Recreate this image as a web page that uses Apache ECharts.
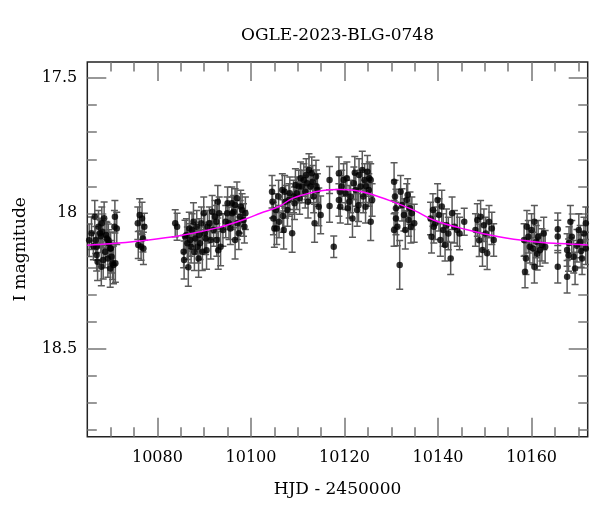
<!DOCTYPE html>
<html><head><meta charset="utf-8">
<script src="https://cdn.jsdelivr.net/npm/echarts@6/dist/echarts.min.js"></script>
<style>html,body{margin:0;padding:0;background:#fff}#c{width:600px;height:512px}</style>
</head><body><div id="c"></div>
<script>
// Observations: HJD-2450000, I magnitude, error
const hjd = [
10065.9,10066.3,10066.6,10066.8,10067.0,10067.0,10067.4,10067.7,10067.9,10068.2,10068.4,10068.6,10068.8,10069.0,10069.2,10069.4,10069.6,10069.9,10070.2,10070.4,10070.6,10070.8,10070.9,10071.0,10069.9,
10075.8,10075.9,10076.2,10076.5,10076.7,10076.9,10077.0,10077.2,
10083.8,10084.2,
10085.6,10085.7,10086.2,10086.4,10086.6,10087.0,10087.4,10087.7,10088.1,10088.4,10088.6,10088.8,10089.1,10089.4,10089.9,10090.1,10090.3,10090.5,10091.1,10091.7,10092.0,10092.3,10092.6,10092.7,10093.0,10093.2,10093.5,10094.9,10095.3,10095.9,10096.3,10096.6,10096.6,10097.0,10097.1,10097.4,10097.7,10098.1,10098.4,10098.8,
10104.5,10104.6,10104.8,10105.0,10105.3,10105.5,10105.9,10106.7,10106.8,10107.0,10107.4,10107.8,10108.1,10108.3,10108.8,10109.1,10109.5,10109.8,10110.2,10110.6,10110.9,10111.3,10111.6,10112.0,10112.4,10112.7,10113.0,10113.4,10113.6,10113.9,10114.2,10114.5,10114.9,
10116.8,10116.8,10117.7,
10118.8,10118.8,10119.1,10119.4,10119.8,10120.2,10120.7,10121.3,10121.7,10122.0,10122.4,10122.7,10123.1,10123.4,10123.8,10124.0,10124.3,10124.5,10124.9,10125.2,10125.6,10125.6,10125.9,
10130.6,10130.8,10131.0,10131.0,10131.3,10130.6,10131.8,10132.0,10132.3,10132.7,10133.0,10133.3,10133.7,10134.0,10134.4,10134.9,10133.5,10134.2,
10138.4,10138.6,10138.9,10139.1,10139.4,10139.9,10140.2,10140.5,10140.8,10141.1,10141.5,10141.8,10142.2,10142.7,10143.0,10143.5,10144.1,10144.6,10145.6,
10148.0,10148.4,10148.8,10149.1,10149.5,10149.8,10150.2,10150.5,10150.9,10151.5,10151.9,
10158.4,10158.6,10158.8,10159.3,10159.6,10160.0,10160.3,10160.6,10160.6,10161.0,10161.4,10161.8,10162.2,10162.6,10162.9,
10165.6,10165.6,10165.6,
10167.6,10167.6,10167.9,10168.3,10168.6,10169.0,10169.3,10169.7,10170.1,10170.4,10170.8,10171.2,10171.6,10171.6,
10065.4,10067.2,10068.0,10068.1,10069.5,10070.0,10071.3,
10085.9,10086.8,10087.2,10087.9,10088.9,10089.6,10090.7,10091.4,10092.9,10094.0,10094.6,10095.0,10095.6,10096.0,10097.8,10098.6,
10106.0,10107.2,10109.3,10110.4,10111.8,10112.2,10113.2,10114.0,
10119.0,10120.5,10121.0,10122.2,10123.0,10124.6,10125.3,
10159.0,10161.2,10168.0,10170.6
];
const imag = [
18.074,18.122,18.013,18.099,18.154,18.124,18.05,18.074,18.085,18.068,18.173,18.018,18.142,18.08,18.093,18.167,18.111,18.204,18.161,18.185,18.191,18.05,18.013,18.185,18.13,
18.037,18.117,18.006,18.124,18.019,18.093,18.13,18.05,
18.037,18.05,
18.142,18.173,18.08,18.111,18.2,18.099,18.062,18.031,18.093,18.05,18.124,18.167,18.111,18.037,18.0,18.074,18.093,18.137,18.037,17.994,18.062,18.013,18.031,18.099,18.137,18.0,18.124,18.0,18.037,17.963,17.994,17.969,18.099,17.944,18.037,18.074,18.013,17.988,18.025,18.0,
17.92,17.957,18.019,18.056,17.988,18.056,17.938,17.914,18.01,18.062,17.957,17.988,17.951,17.926,18.074,17.938,17.895,17.926,17.901,17.870,17.901,17.877,17.92,17.889,17.84,17.901,17.852,17.938,18.037,17.864,17.914,17.976,18.006,
17.877,17.973,18.124,
17.852,17.951,17.976,17.901,17.877,17.926,17.981,17.938,18.019,17.889,17.914,17.988,17.858,17.901,17.84,17.938,17.877,17.976,17.846,17.914,17.877,18.031,17.951,
17.883,17.938,17.981,18.019,18.05,18.062,18.191,17.92,17.969,18.006,18.062,17.951,18.025,17.981,18.0,18.037,17.932,18.05,
18.019,18.087,17.988,18.05,18.037,17.951,18.006,18.099,17.975,18.062,18.117,18.044,18.075,18.167,18.0,18.05,18.062,18.075,18.031,
18.062,18.025,18.1,18.013,18.136,18.044,18.075,18.148,18.031,18.056,18.099,
18.099,18.216,18.167,18.087,18.124,18.062,18.13,18.031,18.198,18.105,18.087,18.136,18.117,18.075,18.124,
18.059,18.086,18.198,
18.136,18.235,18.155,18.031,18.087,18.161,18.204,18.12,18.062,18.105,18.167,18.075,18.037,18.13,
18.1,18.179,18.198,18.037,18.1,18.13,18.056,
18.086,18.056,18.124,18.142,18.08,18.142,18.05,18.099,17.957,18.062,18.031,17.963,18.056,18.0,17.975,18.05,
18.031,17.92,17.963,17.944,17.858,17.957,17.883,17.9,
17.92,17.87,17.957,17.85,17.97,17.9,17.87,
18.05,18.15,18.11,18.14
];
const ierr = [
.06,.05,.06,.05,.06,.05,.06,.05,.06,.05,.07,.06,.06,.05,.06,.07,.05,.07,.06,.06,.07,.06,.06,.07,.06,
.06,.05,.06,.05,.06,.05,.06,.05,
.05,.05,
.06,.07,.06,.06,.07,.06,.06,.07,.06,.06,.06,.07,.06,.06,.06,.07,.06,.07,.06,.06,.06,.06,.06,.06,.07,.06,.07,.06,.06,.06,.06,.06,.07,.06,.06,.06,.06,.06,.06,.06,
.06,.06,.06,.07,.06,.06,.06,.06,.06,.07,.06,.06,.06,.06,.07,.06,.06,.06,.06,.06,.06,.06,.06,.06,.06,.06,.06,.06,.07,.06,.06,.07,.07,
.05,.06,.04,
.06,.06,.06,.06,.06,.06,.06,.06,.07,.06,.06,.06,.06,.06,.07,.06,.06,.06,.06,.06,.06,.07,.06,
.07,.06,.07,.06,.07,.06,.09,.06,.06,.06,.07,.06,.06,.06,.06,.07,.06,.06,
.06,.06,.06,.06,.06,.06,.06,.06,.06,.06,.06,.06,.06,.06,.06,.06,.06,.06,.05,
.06,.06,.06,.06,.06,.06,.06,.06,.06,.06,.06,
.06,.06,.06,.06,.06,.06,.06,.06,.06,.06,.06,.06,.06,.06,.06,
.06,.06,.06,
.06,.06,.06,.06,.06,.06,.06,.06,.06,.06,.06,.06,.06,.06,
.06,.07,.07,.06,.06,.06,.06,
.06,.06,.06,.07,.06,.07,.06,.07,.06,.06,.06,.06,.06,.06,.06,.06,
.06,.06,.06,.06,.06,.06,.06,.06,
.06,.06,.06,.06,.06,.06,.06,
.06,.06,.06,.06
];
// Model curve
const modelT = [10065,10070,10076,10085,10093,10099,10102,10106,10109,10115,10119,10122,10125,10130,10135,10139,10146,10153,10160,10166,10172];
const modelM = [18.118,18.113,18.103,18.082,18.053,18.02,18.0,17.975,17.944,17.917,17.912,17.915,17.926,17.955,17.99,18.025,18.06,18.087,18.104,18.112,18.117];
// Axis ticks
const xMajor = [10080,10100,10120,10140,10160];
const xMinor = [10070,10075,10080,10085,10090,10095,10100,10105,10110,10115,10120,10125,10130,10135,10140,10145,10150,10155,10160,10165,10170];
const yMajor = [17.5,18,18.5];
const yMinor = [17.5,17.6,17.7,17.8,17.9,18.0,18.1,18.2,18.3,18.4,18.5,18.6,18.7,18.8];

const FONT = 'DejaVu Serif';
const X0 = 10065, X1 = 10172, Y0 = 17.44, Y1 = 18.827;
const pts = hjd.map((t,i)=>[t, imag[i]]);
const errData = hjd.map((t,i)=>[t, imag[i], ierr[i]]);
const model = modelT.map((t,i)=>[t, modelM[i]]);

function xAx(pos, ticks, len, labels, name) {
  return {type:'value', position:pos, min:X0, max:X1,
    axisLine:{show:false}, splitLine:{show:false},
    axisTick:{show:true, inside:true, length:len, customValues:ticks, lineStyle:{color:'#777', width:1.5}},
    axisLabel:{show:labels, customValues:xMajor, margin:13, color:'#000', fontFamily:FONT, fontSize:16,
      formatter:v=>String(v)},
    name: name||'', nameLocation:'middle', nameGap:44,
    nameTextStyle:{color:'#000', fontFamily:FONT, fontSize:17}};
}
function yAx(pos, ticks, len, labels, name) {
  return {type:'value', position:pos, min:Y0, max:Y1, inverse:true,
    axisLine:{show:false}, splitLine:{show:false},
    axisTick:{show:true, inside:true, length:len, customValues:ticks, lineStyle:{color:'#777', width:1.5}},
    axisLabel:{show:labels, customValues:yMajor, margin:10, color:'#000', fontFamily:FONT, fontSize:16,
      formatter:v=>String(v)},
    name: name||'', nameLocation:'middle', nameGap:58,
    nameTextStyle:{color:'#000', fontFamily:FONT, fontSize:17}};
}

const chart = echarts.init(document.getElementById('c'), null, {renderer:'canvas'});
chart.setOption({
  animation:false,
  backgroundColor:'#fff',
  title:{text:'OGLE-2023-BLG-0748', left:337.5, textAlign:'center', top:27, padding:0,
    textStyle:{color:'#000', fontFamily:FONT, fontSize:17, fontWeight:'normal'}},
  grid:{left:87.3, right:12.3, top:62, bottom:75.3, show:true, borderColor:'#222', borderWidth:1.5, backgroundColor:'transparent'},
  xAxis:[xAx('bottom', xMajor, 19, true, 'HJD - 2450000'), xAx('bottom', xMinor, 9.5, false),
         xAx('top', xMajor, 19, false), xAx('top', xMinor, 9.5, false)],
  yAxis:[yAx('left', yMajor, 19, true, 'I magnitude'), yAx('left', yMinor, 9.5, false),
         yAx('right', yMajor, 19, false), yAx('right', yMinor, 9.5, false)],
  series:[
    {type:'custom', name:'err', xAxisIndex:0, yAxisIndex:0, z:2, clip:true,
     renderItem:function(params, api){
       const t = api.value(0), m = api.value(1), e = api.value(2);
       const a = api.coord([t, m-e]), b = api.coord([t, m+e]);
       const st = {stroke:'#5a5a5a', lineWidth:1.5};
       return {type:'group', children:[
         {type:'line', shape:{x1:a[0],y1:a[1],x2:b[0],y2:b[1]}, style:st},
         {type:'line', shape:{x1:a[0]-3.5,y1:a[1],x2:a[0]+3.5,y2:a[1]}, style:st},
         {type:'line', shape:{x1:b[0]-3.5,y1:b[1],x2:b[0]+3.5,y2:b[1]}, style:st}
       ]};
     },
     encode:{x:0, y:1}, data:errData},
    {type:'scatter', name:'I', xAxisIndex:0, yAxisIndex:0, z:3, symbol:'circle', symbolSize:6.5,
     itemStyle:{color:'#000'}, data:pts},
    {type:'line', name:'model', xAxisIndex:0, yAxisIndex:0, z:4, smooth:0.4, showSymbol:false, symbol:'none',
     lineStyle:{color:'#ff00ff', width:1.5}, data:model}
  ]
});
</script></body></html>
